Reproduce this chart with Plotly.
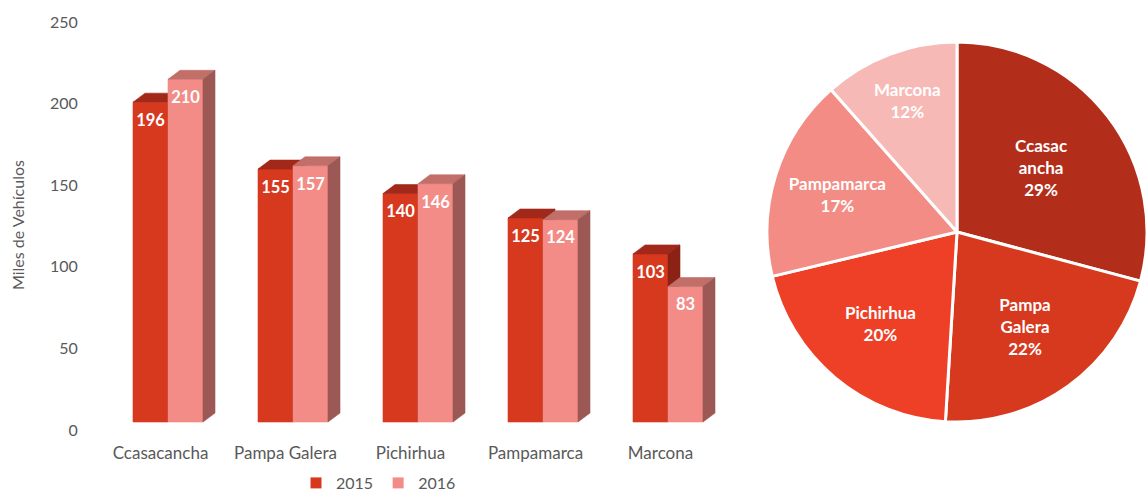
import plotly.graph_objects as go

# data
categories = ["Ccasacancha", "Pampa Galera", "Pichirhua", "Pampamarca", "Marcona"]
v2015 = [196, 155, 140, 125, 103]
v2016 = [210, 157, 146, 124, 83]
pie_labels = ["Ccasac<br>ancha", "Pampa<br>Galera", "Pichirhua", "Pampamarca", "Marcona"]

# colours: front, top, side
c2015 = ("#D7391F", "#A2281A", "#8C2215")
c2016 = ("#F38C87", "#C26F6A", "#9B5854")
pie_colors = ["#B32E1A", "#D7391F", "#EE4026", "#F38C85", "#F7B9B5"]

FONT = "Lato"
GREY = "#595959"
W = 0.28      # bar width (category units)
DX = 0.096    # 3d depth in x
DY = 5.5      # 3d depth in y

fig = go.Figure()


def add_bar3d(x0, v, cols):
    x1 = x0 + W
    faces = [
        ([x0, x1, x1, x0, x0], [0, 0, v, v, 0], cols[0]),
        ([x0, x1, x1 + DX, x0 + DX, x0], [v, v, v + DY, v + DY, v], cols[1]),
        ([x1, x1 + DX, x1 + DX, x1, x1], [0, DY, v + DY, v, 0], cols[2]),
    ]
    for xs, ys, col in faces:
        fig.add_trace(go.Scatter(
            x=xs, y=ys, fill="toself", fillcolor=col, mode="lines",
            line=dict(width=0.6, color=col), showlegend=False,
            hoverinfo="skip", xaxis="x", yaxis="y"))


for i in range(len(categories)):
    add_bar3d(i - W, v2015[i], c2015)
    add_bar3d(i, v2016[i], c2016)

# value labels
lbl_font = dict(family=FONT, size=16.5, color="white", weight=700)
fig.add_trace(go.Scatter(
    x=[i - W / 2 for i in range(len(categories))], y=[v - 7 for v in v2015],
    mode="text", text=[str(v) for v in v2015], textposition="bottom center",
    textfont=lbl_font, showlegend=False, hoverinfo="skip"))
fig.add_trace(go.Scatter(
    x=[i + W / 2 for i in range(len(categories))], y=[v - 7 for v in v2016],
    mode="text", text=[str(v) for v in v2016], textposition="bottom center",
    textfont=lbl_font, showlegend=False, hoverinfo="skip"))

# legend entries
for name, col in [("2015", c2015[0]), ("2016", c2016[0])]:
    fig.add_trace(go.Scatter(
        x=[None], y=[None], mode="markers", name=name,
        marker=dict(symbol="square", size=11, color=col)))

# tick-only axis
fig.add_trace(go.Scatter(x=[None], y=[None], yaxis="y2", showlegend=False))

fig.add_trace(go.Pie(
    labels=categories, values=v2016, text=pie_labels, sort=False,
    direction="clockwise", rotation=0,
    marker=dict(colors=pie_colors, line=dict(color="white", width=3)),
    texttemplate="%{text}<br>%{percent:.0%}", textposition="inside",
    insidetextorientation="horizontal",
    textfont=dict(family=FONT, size=17, color="white", weight=700),
    domain=dict(x=[767 / 1147, 1.0], y=[(492 - 427) / 492, (492 - 37) / 492]),
    showlegend=False, hoverinfo="label+percent"))

ydom = [(492 - 430) / 492, (492 - 22) / 492]
fig.update_layout(
    width=1147, height=492,
    margin=dict(l=0, r=0, t=0, b=0, autoexpand=False),
    paper_bgcolor="white", plot_bgcolor="white",
    font=dict(family=FONT, color=GREY),
    xaxis=dict(domain=[90 / 1147, 720 / 1147], range=[-0.624, 4.416],
               tickvals=[i - 0.06 for i in range(len(categories))],
               ticktext=categories, showgrid=False, zeroline=False,
               showline=False, ticks="outside", ticklen=8,
               tickcolor="rgba(0,0,0,0)", tickfont=dict(size=17, color=GREY)),
    yaxis=dict(domain=ydom, range=[-4.9, 245.1], showgrid=False,
               zeroline=False, showticklabels=False),
    yaxis2=dict(overlaying="y", anchor="x", side="left", range=[0, 250],
                tickvals=[0, 50, 100, 150, 200, 250], showgrid=False,
                zeroline=False, ticks="outside", ticklen=8,
                tickcolor="rgba(0,0,0,0)", tickfont=dict(size=16, color=GREY)),
    legend=dict(orientation="h", x=0.330, xanchor="center", y=9 / 492,
                yanchor="middle", font=dict(size=16, color=GREY),
                itemwidth=30, tracegroupgap=0),
    annotations=[dict(text="Miles de Vehículos", textangle=-90, x=18 / 1147,
                      y=(492 - 225) / 492, xref="paper", yref="paper",
                      xanchor="center", yanchor="middle",
                      showarrow=False, font=dict(size=16, color=GREY))],
)

fig.write_html("out.html", config={"displayModeBar": False},
               post_script="document.body.style.margin='0';")
